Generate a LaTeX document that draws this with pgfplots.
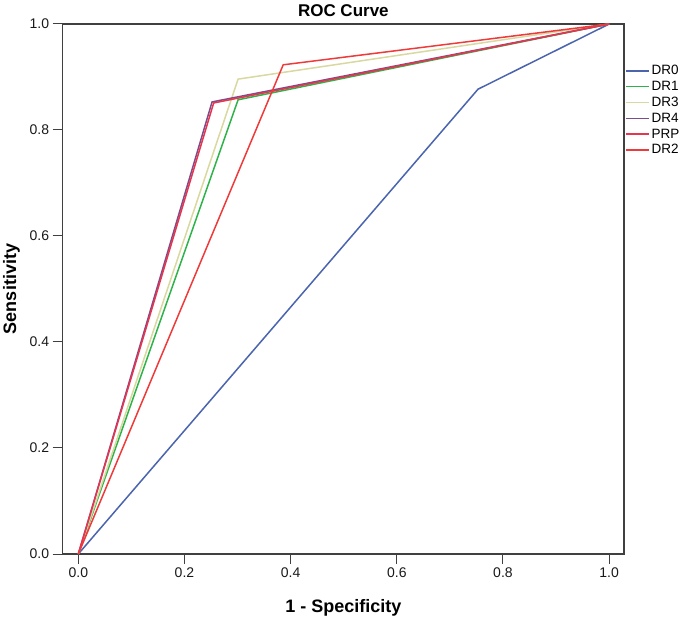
\documentclass[border=0pt]{standalone}
\usepackage{pgfplots}
\pgfplotsset{compat=1.18}
\usepackage{fontspec}
\setmainfont{Liberation Sans}
\definecolor{cDRzero}{HTML}{4A64AE}
\definecolor{cDRone}{HTML}{2EB34A}
\definecolor{cDRthree}{HTML}{D8D8A0}
\definecolor{cDRfour}{HTML}{7B4D8C}
\definecolor{cPRP}{HTML}{E8344C}
\definecolor{cDRtwo}{HTML}{EE3A3A}
\begin{document}
\begin{tikzpicture}[x=1pt,y=1pt]
\useasboundingbox (-62.7,-64) rectangle (622.3,554);
\begin{axis}[
  at={(0,0)}, anchor=south west,
  scale only axis, width=561.3pt, height=530pt,
  xmin=-0.0294, xmax=1.028, ymin=0, ymax=1,
  xtick={0,0.2,...,1.0}, ytick={0,0.2,...,1.0},
  xticklabel style={/pgf/number format/.cd,fixed,fixed zerofill,precision=1},
  yticklabel style={/pgf/number format/.cd,fixed,fixed zerofill,precision=1},
  /pgf/number format/assume math mode=true,
  tick label style={font=\fontsize{14}{16}\selectfont, color=black!90},
  tick align=outside, major tick length=10pt,
  xtick pos=bottom, ytick pos=left,
  tick style={line width=1pt, color=black!75},
  axis line style={line width=1.3pt, color=black!75},
  xlabel={\textbf{1 - Specificity}},
  ylabel={\textbf{Sensitivity}},
  label style={font=\fontsize{18}{21}\selectfont},
  xlabel style={at={(ticklabel cs:0.5)}, yshift=-15pt},
  ylabel style={yshift=3pt},
  title={\textbf{ROC Curve}},
  title style={font=\fontsize{17}{20}\selectfont, yshift=-2pt},
  legend style={at={(1,0.93)}, anchor=north west, draw=none, fill=none,
    font=\fontsize{13.5}{16}\selectfont, row sep=1pt, inner xsep=1pt},
  legend cell align=left,
  legend image code/.code={\draw[#1, line width=1.5pt] (0pt,0pt) -- (23pt,0pt);},
  every axis plot/.append style={line width=1.5pt},
]
\addplot[color=cDRzero] coordinates {(0,0) (0.753,0.877) (1,1)};
\addlegendentry{DR0}
\addplot[color=cDRone] coordinates {(0,0) (0.301,0.857) (1,1)};
\addlegendentry{DR1}
\addplot[color=cDRthree] coordinates {(0,0) (0.301,0.896) (1,1)};
\addlegendentry{DR3}
\addplot[color=cDRfour] coordinates {(0,0) (0.252,0.853) (1,1)};
\addlegendentry{DR4}
\addplot[color=cPRP] coordinates {(0,0) (0.255,0.851) (1,1)};
\addlegendentry{PRP}
\addplot[color=cDRtwo] coordinates {(0,0) (0.386,0.923) (1,1)};
\addlegendentry{DR2}
\end{axis}
\end{tikzpicture}
\end{document}
